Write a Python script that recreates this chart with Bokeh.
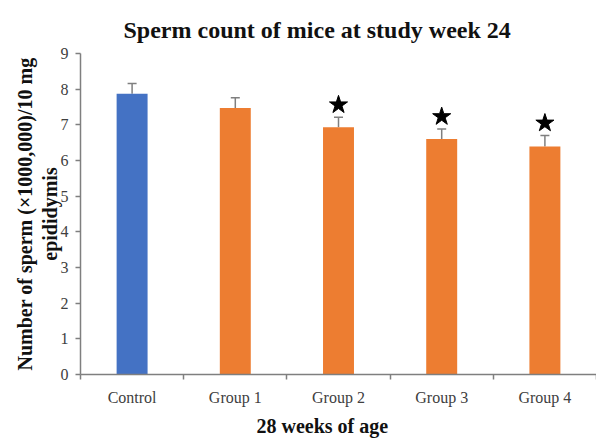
from bokeh.plotting import figure
from bokeh.models import ColumnDataSource, Range1d, FixedTicker, Whisker, TeeHead, Title
from bokeh.embed import file_html
from bokeh.resources import INLINE

categories = ["Control", "Group 1", "Group 2", "Group 3", "Group 4"]
counts = [7.87, 7.47, 6.93, 6.60, 6.39]
errors = [0.29, 0.29, 0.28, 0.28, 0.31]
significant = [False, False, True, True, True]
colors = ["#4472C4", "#ED7D31", "#ED7D31", "#ED7D31", "#ED7D31"]
y_ticks = [0, 1, 2, 3, 4, 5, 6, 7, 8, 9]

FONT = "Liberation Serif"
xs = [i + 0.5 for i in range(len(categories))]
src = ColumnDataSource(dict(
    x=xs, top=counts, color=colors,
    lower=counts, upper=[c + e for c, e in zip(counts, errors)],
))

p = figure(width=596, height=440, output_backend="svg", toolbar_location=None,
           x_range=Range1d(0, len(categories)), y_range=Range1d(0, 9),
           min_border_left=80, min_border_right=0, min_border_top=53, min_border_bottom=65)
p.title.text = "Sperm count of mice at study week 24"
p.title.text_font = FONT
p.title.text_font_size = "24px"
p.title.text_font_style = "bold"
p.title.align = "left"
p.title.offset = 43
p.title.standoff = 21
p.title.text_color = "#111111"

p.vbar(x="x", top="top", width=0.30, fill_color="color", line_color=None, source=src)
p.add_layout(Whisker(base="x", lower="lower", upper="upper", source=src,
                     line_color="#7f7f7f", line_width=1.5,
                     upper_head=TeeHead(size=9, line_color="#7f7f7f", line_width=1.5),
                     lower_head=None))

sx = [x for x, s in zip(xs, significant) if s]
sy = [c + e + 0.35 for c, e, s in zip(counts, errors, significant) if s]
p.scatter(sx, sy, marker="star", size=19, fill_color="black", line_color="black")

p.xgrid.visible = False
p.ygrid.visible = False
p.outline_line_color = None

p.xaxis.ticker = FixedTicker(ticks=xs, minor_ticks=list(range(len(categories) + 1)))
p.xaxis.major_label_overrides = {x: c for x, c in zip(xs, categories)}
p.xaxis.minor_tick_in = 0
p.xaxis.minor_tick_out = 5
p.xaxis.major_tick_in = 0
p.xaxis.major_tick_out = 4
p.xaxis.minor_tick_line_color = "#7f7f7f"
p.xaxis.minor_tick_line_width = 1.5

p.yaxis.ticker = FixedTicker(ticks=y_ticks)
p.yaxis.minor_tick_line_color = None
p.yaxis.major_tick_in = 0
p.yaxis.major_tick_out = 5
p.yaxis.axis_label = "Number of sperm (\u00d71000,000)/10 mg\nepididymis"

for ax in (p.xaxis, p.yaxis):
    ax.axis_line_color = "#7f7f7f"
    ax.axis_line_width = 1.5
    ax.major_label_text_font = FONT
    ax.major_label_text_color = "#404040"
    ax.axis_label_text_font = FONT
    ax.axis_label_text_font_style = "bold"
    ax.axis_label_text_color = "#111111"
p.xaxis.major_tick_line_color = None
p.yaxis.major_tick_line_color = "#7f7f7f"
p.yaxis.major_tick_line_width = 1.5
p.xaxis.major_label_text_font_size = "16px"
p.yaxis.major_label_text_font_size = "16px"
p.yaxis.axis_label_text_font_size = "20px"
p.yaxis.axis_label_text_line_height = 1.1
p.yaxis.axis_label_standoff = -3
p.xaxis.major_label_standoff = 9
p.yaxis.major_label_standoff = 7

xlabel = Title(text="28 weeks of age", align="left", offset=176, standoff=8,
               text_font=FONT, text_font_size="20px", text_font_style="bold",
               text_color="#111111")
p.add_layout(xlabel, "below")

open("out.html", "w").write(file_html(p, INLINE))
